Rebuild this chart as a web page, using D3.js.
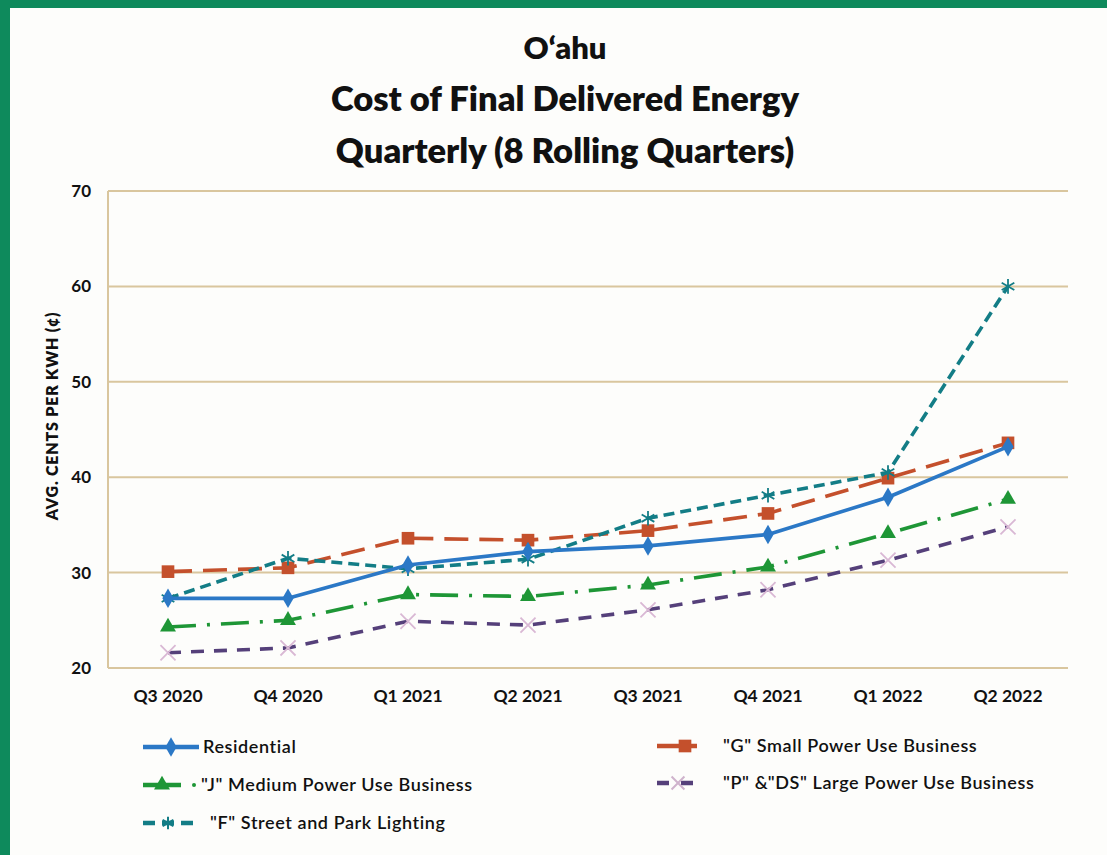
<!DOCTYPE html>
<html><head><meta charset="utf-8">
<script src="https://cdn.jsdelivr.net/npm/d3@7"></script>
<style>
html,body{margin:0;padding:0;background:#fff;}
svg{display:block;}
text{font-family:Lato,"Open Sans",sans-serif;}
</style></head>
<body><svg id="c" width="1107" height="855"></svg>
<script>
const categories = ["Q3 2020","Q4 2020","Q1 2021","Q2 2021","Q3 2021","Q4 2021","Q1 2022","Q2 2022"];
const residential = [27.3, 27.3, 30.8, 32.2, 32.8, 34.0, 37.9, 43.2];
const smallG      = [30.1, 30.5, 33.6, 33.4, 34.4, 36.2, 39.9, 43.6];
const mediumJ     = [24.3, 25.0, 27.7, 27.5, 28.7, 30.6, 34.1, 37.7];
const largePDS    = [21.6, 22.1, 24.9, 24.5, 26.1, 28.2, 31.3, 34.8];
const streetF     = [27.3, 31.5, 30.4, 31.4, 35.7, 38.1, 40.5, 60.0];
const yTicks = [20, 30, 40, 50, 60, 70];
const titleLines = ["O\u2018ahu", "Cost of Final Delivered Energy", "Quarterly (8 Rolling Quarters)"];
const yLabel = "AVG. CENTS PER KWH (\u00A2)";
const seriesNames = ["Residential", "\"G\" Small Power Use Business", "\"J\" Medium Power Use Business", "\"P\" &\"DS\" Large Power Use Business", "\"F\" Street and Park Lighting"];

const series = [
  {name: seriesNames[1], values: smallG, color: "#c4502c", dash: "24,11", sym: "square"},
  {name: seriesNames[4], values: streetF, color: "#137d86", dash: "11,6", sym: "plus"},
  {name: seriesNames[0], values: residential, color: "#2b78c6", dash: null, sym: "diamond"},
  {name: seriesNames[2], values: mediumJ, color: "#1e9636", dash: "28,11,3,11", sym: "triangle"},
  {name: seriesNames[3], values: largePDS, color: "#55407a", dash: "13,10", sym: "times"}
];

const svg = d3.select("#c");
svg.append("rect").attr("width",1107).attr("height",855).attr("fill","#0e8a5c");
svg.append("rect").attr("x",10).attr("y",8).attr("width",1097).attr("height",847).attr("fill","#fdfdfb");

const L = 108, R = 1068, T = 191, B = 668;
const x = d3.scaleBand().domain(categories).range([L, R]);
const cx = d => x(d) + x.bandwidth()/2;
const y = d3.scaleLinear().domain([20, 70]).range([B, T]);

// gridlines
const grid = svg.append("g");
grid.selectAll("line").data(yTicks).join("line")
  .attr("x1", L).attr("x2", R).attr("y1", d => y(d)).attr("y2", d => y(d))
  .attr("stroke", "#d9c69e").attr("stroke-width", 2);
grid.append("line").attr("x1", L).attr("x2", L).attr("y1", T).attr("y2", B).attr("stroke", "#d9c69e").attr("stroke-width", 2);

// y axis labels
const yAxis = d3.axisLeft(y).tickValues(yTicks).tickSize(0).tickPadding(17).tickFormat(d3.format("d"));
const ya = svg.append("g").attr("transform", `translate(${L},0)`).call(yAxis);
ya.select(".domain").remove();
ya.selectAll("text").attr("font-size", 17).attr("font-weight", 700).attr("fill", "#111").style("font-family","Lato,sans-serif");

// x axis labels
const xAxis = d3.axisBottom(x).tickSize(0).tickPadding(22);
const xa = svg.append("g").attr("transform", `translate(0,${B})`).call(xAxis);
xa.select(".domain").remove();
xa.selectAll("text").attr("font-size", 17.5).attr("font-weight", 700).attr("fill", "#111").style("font-family","Lato,sans-serif");

// y label
svg.append("text").attr("transform", `translate(58,416) rotate(-90)`)
  .attr("text-anchor","middle").attr("font-size",16).attr("font-weight",800).attr("letter-spacing",0.8)
  .attr("fill","#111").text(yLabel);

// title
svg.selectAll("text.title").data(titleLines).join("text").attr("class","title")
  .attr("x", 565).attr("y", (d,i) => 59 + i*52)
  .attr("text-anchor","middle").attr("font-size", (d,i) => i===0 ? 31 : 34.5).attr("font-weight",800)
  .attr("fill","#111").text(d => d);

function symbolPath(sym, size){
  const m = {square: d3.symbolSquare, diamond: d3.symbolDiamond, triangle: d3.symbolTriangle, times: d3.symbolTimes, plus: d3.symbolAsterisk};
  return d3.symbol().type(m[sym]).size(size)();
}
const line = d3.line().x((d,i) => cx(categories[i])).y(d => y(d));

series.forEach(s => {
  const g = svg.append("g");
  g.append("path").attr("d", line(s.values)).attr("fill","none").attr("stroke", s.color)
    .attr("stroke-width", 3.6).attr("stroke-dasharray", s.dash).attr("stroke-linejoin","round");
  const stroked = (s.sym === "times" || s.sym === "plus");
  const size = s.sym === "square" ? 160 : s.sym === "diamond" ? 110 : s.sym === "triangle" ? 110 : 150;
  g.selectAll("path.m").data(s.values).join("path").attr("class","m")
    .attr("transform", (d,i) => `translate(${cx(categories[i])},${y(d)})`)
    .attr("d", symbolPath(s.sym, size))
    .attr("fill", stroked ? "none" : s.color)
    .attr("stroke", s.sym === "times" ? "#d9b8d4" : (stroked ? s.color : "none"))
    .attr("stroke-width", stroked ? 1.8 : 0);
});

// legend
const legend = [
  {s: series[2], x: 143, y: 747, len: 56, tx: 203},
  {s: series[3], x: 143, y: 785, len: 38, tx: 201, dot: 194},
  {s: series[1], x: 143, y: 823, len: 50, tx: 210},
  {s: series[0], x: 657, y: 746, len: 40, tx: 723},
  {s: series[4], x: 657, y: 783, len: 42, tx: 723}
];
legend.forEach(l => {
  const g = svg.append("g");
  g.append("line").attr("x1", l.x).attr("x2", l.x + l.len).attr("y1", l.y).attr("y2", l.y)
    .attr("stroke", l.s.color).attr("stroke-width", 4.5)
    .attr("stroke-dasharray", l.s.sym === "plus" ? "12,7" : (l.s.sym === "times" ? "12,12" : null));
  if (l.dot) g.append("circle").attr("cx", l.dot).attr("cy", l.y).attr("r", 2).attr("fill", l.s.color);
  const stroked = (l.s.sym === "times" || l.s.sym === "plus");
  g.append("path").attr("transform", `translate(${l.x + l.len/2 + (l.s.sym==="square"?8:0)},${l.y})`)
    .attr("d", symbolPath(l.s.sym, l.s.sym === "square" ? 160 : 110))
    .attr("fill", stroked ? "none" : l.s.color)
    .attr("stroke", l.s.sym === "times" ? "#cfb3cc" : (stroked ? l.s.color : "none"))
    .attr("stroke-width", stroked ? 2 : 0);
  g.append("text").attr("x", l.tx).attr("y", l.y + 6).attr("font-size", 18).attr("font-weight", 600)
    .attr("letter-spacing", 0.6).attr("fill", "#111").text(l.s.name);
});
</script></body></html>
